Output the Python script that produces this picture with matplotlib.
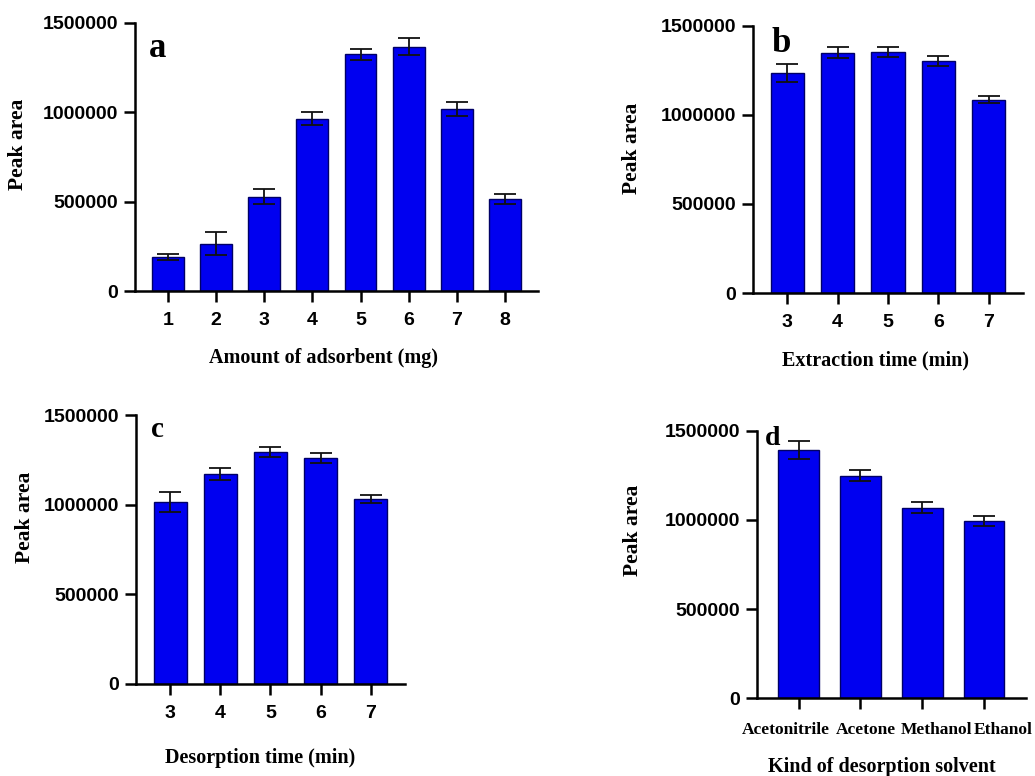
import numpy as np
import matplotlib.pyplot as plt
from matplotlib.transforms import ScaledTranslation

# panel a: amount of adsorbent (mg)
adsorbent = ["1", "2", "3", "4", "5", "6", "7", "8"]
adsorbent_area = [190000, 265000, 528000, 965000, 1325000, 1368000, 1018000, 515000]
adsorbent_err = [15000, 65000, 42000, 37000, 32000, 50000, 40000, 30000]

# panel b: extraction time (min)
extraction = ["3", "4", "5", "6", "7"]
extraction_area = [1233000, 1349000, 1354000, 1302000, 1085000]
extraction_err = [50000, 30000, 28000, 28000, 21000]

# panel c: desorption time (min)
desorption = ["3", "4", "5", "6", "7"]
desorption_area = [1015000, 1172000, 1297000, 1263000, 1032000]
desorption_err = [55000, 34000, 28000, 28000, 20000]

# panel d: kind of desorption solvent
solvents = ["Acetonitrile", "Acetone", "Methanol", "Ethanol"]
solvent_area = [1391000, 1247000, 1068000, 993000]
solvent_err = [52000, 30000, 32000, 30000]

yticks = [0, 500000, 1000000, 1500000]
SERIF = ["Liberation Serif", "DejaVu Serif"]
SANS = ["Liberation Sans", "DejaVu Sans"]


def plot_panel(ax, cats, vals, errs, xlabel, letter, ylab_pos, xlab_pos, letter_pos,
               letter_size, serif_ticks=False):
    x = np.arange(len(cats))
    ax.bar(x, vals, width=0.66, color="#0000f0", edgecolor="#000066", linewidth=1.0)
    ax.errorbar(x, vals, yerr=errs, fmt="none", ecolor="#111111", elinewidth=1.3,
                capsize=8, capthick=1.3)

    ax.set_xlim(-0.68, len(cats) - 1 + 0.68)
    ax.set_ylim(0, 1500000)
    ax.set_yticks(yticks)
    ax.set_yticklabels([str(t) for t in yticks], family=SANS, fontweight="bold", fontsize=14)
    ax.set_xticks(x)
    if serif_ticks:
        ax.set_xticklabels(cats, family=SERIF, fontweight="bold", fontsize=12.5)
    else:
        ax.set_xticklabels(cats, family=SANS, fontweight="bold", fontsize=14)

    for side in ["top", "right"]:
        ax.spines[side].set_visible(False)
    for side in ["left", "bottom"]:
        ax.spines[side].set_linewidth(1.8)
        ax.spines[side].set_color("black")
    ax.tick_params(axis="both", length=8, width=1.8, color="black")
    ax.tick_params(axis="y", pad=4)
    ax.tick_params(axis="x", pad=7 if not serif_ticks else 9)

    ax.set_ylabel("Peak area", family=SERIF, fontweight="bold", fontsize=15.5, va="center")
    ax.yaxis.set_label_coords(*ylab_pos)
    ax.set_xlabel(xlabel, family=SERIF, fontweight="bold", fontsize=14.5, va="center")
    ax.xaxis.set_label_coords(*xlab_pos)

    ax.text(letter_pos[0], letter_pos[1], letter, transform=ax.transAxes, family=SERIF,
            fontweight="bold", fontsize=letter_size, ha="left", va="baseline")


fig = plt.figure(figsize=(10.35, 7.76), dpi=100)
ax_a = fig.add_axes([0.1304, 0.625, 0.3894, 0.3454])
ax_b = fig.add_axes([0.7275, 0.6224, 0.2609, 0.3445])
ax_c = fig.add_axes([0.1314, 0.1186, 0.2599, 0.3463])
ax_d = fig.add_axes([0.7311, 0.1001, 0.2602, 0.345])

plot_panel(ax_a, adsorbent, adsorbent_area, adsorbent_err, "Amount of adsorbent (mg)", "a",
           (-0.290, 0.549), (0.469, -0.25), (0.035, 0.873), 25)
plot_panel(ax_b, extraction, extraction_area, extraction_err, "Extraction time (min)", "b",
           (-0.448, 0.542), (0.452, -0.251), (0.067, 0.902), 25)
plot_panel(ax_c, desorption, desorption_area, desorption_err, "Desorption time (min)", "c",
           (-0.413, 0.622), (0.461, -0.275), (0.056, 0.919), 21)
plot_panel(ax_d, solvents, solvent_area, solvent_err, "Kind of desorption solvent", "d",
           (-0.459, 0.629), (0.465, -0.257), (0.031, 0.946), 20, serif_ticks=True)

# the solvent names sit spread out a bit from their ticks, as in the original
for lab, dx in zip(ax_d.get_xticklabels(), [-9, 4, 10, 14]):
    lab.set_transform(lab.get_transform() + ScaledTranslation(dx / 72, 0, fig.dpi_scale_trans))

fig.savefig("out.png", dpi=100)
